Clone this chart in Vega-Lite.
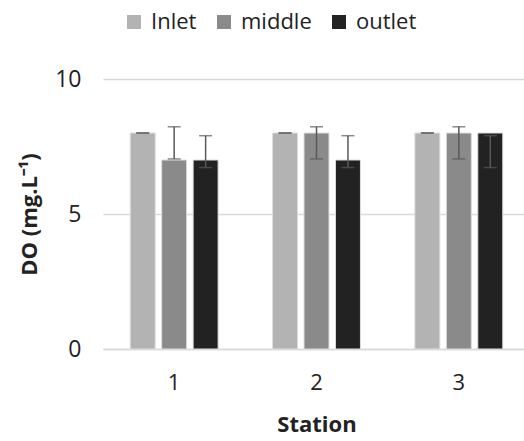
{
  "$schema": "https://vega.github.io/schema/vega-lite/v6.json",
  "width": 427,
  "height": 270,
  "autosize": {"type": "none"},
  "padding": {"left": 103, "top": 79, "right": 0, "bottom": 92},
  "background": "white",
  "config": {
    "view": {"stroke": null},
    "font": "Open Sans",
    "axis": {"labelFont": "Open Sans", "titleFont": "Open Sans", "labelColor": "#222222", "titleColor": "#222222"}
  },
  "data": {
    "values": [
      {"station": "1", "loc": "Inlet", "value": 8, "lo": 8, "hi": 8},
      {"station": "1", "loc": "middle", "value": 7, "lo": 7.04, "hi": 8.23},
      {"station": "1", "loc": "outlet", "value": 7, "lo": 6.72, "hi": 7.9},
      {"station": "2", "loc": "Inlet", "value": 8, "lo": 8, "hi": 8},
      {"station": "2", "loc": "middle", "value": 8, "lo": 7.04, "hi": 8.23},
      {"station": "2", "loc": "outlet", "value": 7, "lo": 6.72, "hi": 7.9},
      {"station": "3", "loc": "Inlet", "value": 8, "lo": 8, "hi": 8},
      {"station": "3", "loc": "middle", "value": 8, "lo": 7.04, "hi": 8.23},
      {"station": "3", "loc": "outlet", "value": 8, "lo": 6.72, "hi": 7.9}
    ]
  },
  "encoding": {
    "x": {
      "field": "station", "type": "nominal",
      "scale": {"paddingInner": 0.337, "paddingOuter": 0.1685},
      "axis": {
        "title": "Station", "labelAngle": 0, "labelFontSize": 22, "titleFontSize": 22, "titleFontWeight": "bold",
        "labelPadding": 23, "titlePadding": 21, "ticks": false, "domainColor": "#d9d9d9", "domainWidth": 1.5
      }
    },
    "xOffset": {"field": "loc", "type": "nominal", "sort": ["Inlet", "middle", "outlet"], "scale": {"paddingInner": 0.206, "paddingOuter": 0.103}}
  },
  "layer": [
    {
      "mark": {"type": "bar", "stroke": "#dddddd", "strokeWidth": 1},
      "encoding": {
        "y": {
          "field": "value", "type": "quantitative",
          "scale": {"domain": [0, 10]},
          "axis": {
            "title": "DO (mg.L⁻¹)", "values": [0, 5, 10], "labelFontSize": 23, "titleFontSize": 22, "titleFontWeight": "bold",
            "ticks": false, "domain": false, "gridColor": "#d9d9d9", "gridWidth": 1.5, "labelPadding": 22, "titlePadding": 13
          }
        },
        "color": {
          "field": "loc", "type": "nominal", "sort": ["Inlet", "middle", "outlet"],
          "scale": {"domain": ["Inlet", "middle", "outlet"], "range": ["#b3b3b3", "#8a8a8a", "#222222"]},
          "legend": {
            "title": null, "orient": "none", "direction": "horizontal", "legendX": 20, "legendY": -68,
            "symbolType": "square", "symbolSize": 196, "symbolStrokeWidth": 0, "labelFontSize": 22, "labelColor": "#222222",
            "columnPadding": 16, "labelOffset": 6
          }
        }
      }
    },
    {
      "mark": {"type": "rule", "color": "#595959", "strokeWidth": 1.5},
      "encoding": {
        "y": {"field": "lo", "type": "quantitative"},
        "y2": {"field": "hi"}
      }
    },
    {
      "mark": {"type": "tick", "color": "#595959", "thickness": 1.5, "size": 13},
      "encoding": {"y": {"field": "lo", "type": "quantitative"}}
    },
    {
      "mark": {"type": "tick", "color": "#595959", "thickness": 1.5, "size": 13},
      "encoding": {"y": {"field": "hi", "type": "quantitative"}}
    }
  ]
}
